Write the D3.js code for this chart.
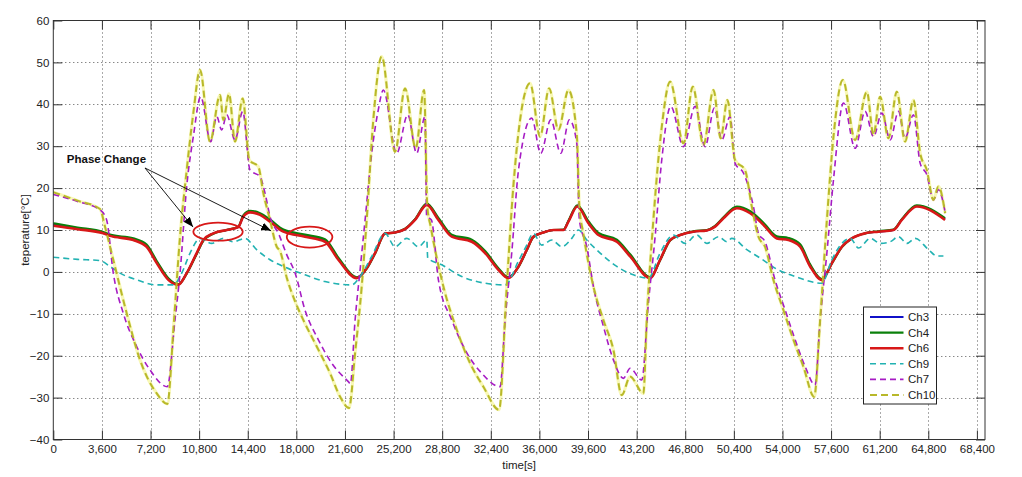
<!DOCTYPE html>
<html><head><meta charset="utf-8">
<script src="https://cdn.jsdelivr.net/npm/d3@7"></script>
<style>body{margin:0;background:#fff}svg{display:block}</style>
</head><body>
<svg id="c" width="1022" height="477"></svg>
<script>
// ---- data: [time (s), temperature (°C)] ----
const ch3 = [[0,11.3],[1800,10.4],[3700,9.3],[4200,8.7],[5925,7.8],[6910,6.2],[7660,2.3],[8520,-1.7],[9260,-3.0],[9880,-0.3],[10620,4.4],[11110,7.5],[11850,9.2],[12840,10.0],[13700,10.7],[14070,13.3],[14570,14.4],[15310,13.8],[16050,12.2],[17040,9.8],[18640,8.6],[20120,7.5],[21110,3.1],[22470,-1.4],[23210,0.9],[23830,4.5],[24570,9.2],[25310,9.4],[26050,10.2],[26790,12.5],[27660,16.1],[28520,12.6],[29510,8.6],[30990,7.4],[31980,4.7],[32960,0.7],[33700,-1.4],[34450,1.3],[35070,5.3],[35550,8.4],[36290,9.4],[37040,10.0],[37780,10.0],[38150,12.1],[38810,15.7],[39630,11.8],[40370,9.0],[41730,7.4],[42720,3.9],[44200,-1.4],[44940,2.9],[45680,7.6],[46420,8.8],[47400,9.6],[48400,9.9],[49010,10.9],[49630,12.9],[50620,15.4],[51610,14.2],[52350,12.2],[52710,11.0],[53580,8.3],[54440,7.9],[55310,6.3],[56050,1.5],[56920,-1.8],[57660,2.1],[58400,6.0],[59140,8.0],[60120,9.2],[61110,9.6],[62220,10.0],[62840,12.5],[63950,15.7],[66040,12.6]];
const ch4 = [[0,11.6],[1800,10.6],[3700,9.5],[4200,8.9],[5925,8.0],[6910,6.5],[7660,2.6],[8520,-1.5],[9260,-3.0],[9880,-0.4],[10620,4.3],[11110,7.4],[11850,9.1],[12840,10.0],[13700,10.8],[14070,13.5],[14570,14.6],[15310,14.0],[16050,12.5],[17040,10.1],[18640,8.9],[20120,7.8],[21110,3.4],[22470,-1.3],[23210,0.8],[23830,4.4],[24570,9.1],[25310,9.4],[26050,10.3],[26790,12.6],[27660,16.3],[28520,12.9],[29510,8.9],[30990,7.7],[31980,5.0],[32960,0.9],[33700,-1.3],[34450,1.2],[35070,5.2],[35550,8.3],[36290,9.4],[37040,10.0],[37780,10.1],[38150,12.2],[38810,15.9],[39630,12.1],[40370,9.3],[41730,7.7],[42720,4.2],[44200,-1.3],[44940,2.8],[45680,7.5],[46420,8.8],[47400,9.7],[48400,10.0],[49010,11.0],[49630,13.0],[50620,15.6],[51610,14.5],[52350,12.5],[52710,11.3],[53580,8.5],[54440,8.1],[55310,6.6],[56050,1.8],[56920,-1.7],[57660,2.0],[58400,5.9],[59140,8.0],[60120,9.2],[61110,9.7],[62220,10.1],[62840,12.6],[63950,15.9],[66040,12.8]];
const ch6 = [[0,11.0],[1800,10.2],[3700,9.2],[4200,8.6],[5925,7.6],[6910,6.0],[7660,2.1],[8520,-1.9],[9260,-3.1],[9880,-0.3],[10620,4.5],[11110,7.6],[11850,9.2],[12840,10.0],[13700,10.7],[14070,13.2],[14570,14.2],[15310,13.6],[16050,12.0],[17040,9.6],[18640,8.4],[20120,7.2],[21110,2.9],[22470,-1.5],[23210,0.9],[23830,4.5],[24570,9.2],[25310,9.4],[26050,10.2],[26790,12.4],[27660,16.0],[28520,12.4],[29510,8.4],[30990,7.2],[31980,4.5],[32960,0.5],[33700,-1.5],[34450,1.3],[35070,5.3],[35550,8.4],[36290,9.4],[37040,10.0],[37780,10.0],[38150,12.0],[38810,15.6],[39630,11.6],[40370,8.8],[41730,7.2],[42720,3.7],[44200,-1.5],[44940,2.9],[45680,7.6],[46420,8.8],[47400,9.6],[48400,9.9],[49010,10.8],[49630,12.8],[50620,15.2],[51610,14.0],[52350,12.0],[52710,10.8],[53580,8.0],[54440,7.6],[55310,6.0],[56050,1.3],[56920,-1.9],[57660,2.1],[58400,6.0],[59140,8.0],[60120,9.2],[61110,9.6],[62220,10.0],[62840,12.4],[63950,15.6],[66040,12.4]];
const ch9 = [[0,3.5],[1800,3.0],[3460,2.7],[4200,1.3],[4940,-0.3],[6180,-1.9],[7660,-3.1],[8890,-3.1],[9510,-0.3],[10130,4.5],[10870,8.0],[11730,6.8],[12590,8.0],[13330,7.2],[14200,8.0],[15060,5.3],[16050,2.9],[17040,1.3],[18640,-0.7],[20120,-2.3],[22100,-3.1],[22720,-1.1],[23580,3.7],[24570,9.2],[25310,6.0],[26180,8.0],[27040,6.0],[27660,7.6],[27730,3.3],[28770,1.7],[30250,-1.1],[31980,-2.7],[33460,-3.1],[34450,2.6],[35000,6.0],[35550,9.2],[36170,6.4],[36920,7.6],[37660,6.0],[38400,8.0],[38890,10.0],[39510,7.6],[40500,4.5],[41730,1.3],[42960,-0.7],[44070,-1.5],[44940,4.5],[45920,8.8],[46790,6.8],[47650,8.8],[48400,6.8],[49260,8.4],[49880,7.2],[50250,8.0],[51360,5.3],[52350,3.3],[53450,0.9],[54940,-1.1],[56920,-2.7],[57660,2.9],[58400,6.8],[59020,8.0],[59640,5.7],[60500,8.0],[61240,6.8],[61980,7.2],[62590,8.4],[63220,6.8],[63830,8.0],[64820,5.3],[65430,3.8],[65920,3.8]];
const ch7 = [[0,18.5],[1800,16.8],[3460,14.8],[3950,12.4],[4444,-0.3],[5185,-9.9],[6175,-17.8],[7160,-23.4],[8440,-27.4],[9010,-11.5],[9385,-0.3],[9880,20.4],[10370,32.3],[10915,41.8],[11655,31.1],[12100,37.1],[12470,33.9],[12840,37.5],[13460,31.5],[14030,38.3],[14570,24.3],[15310,22.7],[15680,18.8],[16050,13.2],[16700,9.0],[17300,4.0],[17900,-0.2],[18640,-9.1],[19630,-16.2],[20620,-21.8],[21850,-26.2],[22000,-26.7],[22350,-11.5],[22720,0.5],[23090,12.4],[23580,28.3],[24070,38.7],[24440,43.4],[25430,28.3],[26250,37.5],[26910,28.3],[27530,37.1],[27650,13.2],[28000,12.4],[28520,-1.9],[29510,-11.5],[30500,-18.6],[31730,-24.2],[33090,-27.4],[33460,-11.5],[33950,4.5],[34450,24.3],[35430,36.7],[36100,28.3],[36840,36.3],[37580,28.3],[38220,36.3],[38770,30.7],[38960,12.4],[39510,6.0],[40000,-3.5],[40740,-13.0],[41480,-21.0],[42220,-25.4],[42720,-23.0],[43580,-25.8],[44070,-7.5],[44570,8.4],[45060,26.7],[45730,39.5],[46670,29.9],[47530,39.5],[48270,29.9],[48960,39.1],[49510,31.5],[50120,37.1],[50490,25.9],[51110,23.6],[51850,15.6],[52220,9.2],[52710,7.2],[53450,-1.9],[54200,-9.1],[54940,-16.2],[55680,-22.6],[56420,-27.0],[56790,-11.5],[57290,4.5],[57780,22.0],[58520,40.3],[59380,29.5],[60120,38.3],[60740,32.3],[61360,37.9],[61980,31.5],[62590,38.3],[63080,31.9],[63700,37.5],[64200,25.9],[64690,23.2],[65180,17.2],[65550,19.6],[66040,14.4]];
const ch10 = [[0,19.0],[1800,17.0],[3460,15.0],[3830,10.8],[4440,2.9],[5430,-9.8],[6420,-21.0],[7660,-29.0],[8440,-31.5],[8940,-11.5],[9385,8.4],[9880,24.3],[10370,37.9],[10866,48.2],[11606,31.1],[12347,42.2],[12594,36.3],[13014,42.5],[13458,31.1],[14027,41.4],[14520,26.7],[15185,25.1],[15555,18.8],[16050,12.4],[16548,6.0],[16790,5.0],[17300,-1.5],[17900,-7.0],[18520,-11.5],[19510,-17.8],[20500,-24.2],[21240,-29.8],[21900,-32.5],[22350,-19.4],[22840,-3.5],[23210,12.4],[23700,36.3],[24320,51.4],[25310,28.7],[26050,43.8],[26840,29.5],[27460,43.4],[27700,15.6],[27950,10.8],[28890,-3.5],[29880,-13.8],[30870,-21.8],[31850,-27.4],[33010,-32.9],[33580,-3.5],[34070,20.4],[34570,36.3],[35310,45.0],[36050,32.3],[36720,43.8],[37410,33.9],[38150,43.4],[38770,32.7],[38960,15.6],[39250,9.2],[40000,-3.5],[40740,-11.5],[41480,-18.6],[42100,-29.4],[42720,-25.0],[43700,-29.0],[43950,-11.5],[44440,12.4],[45065,34.7],[45680,45.4],[46670,30.7],[47360,44.2],[48150,30.3],[48890,43.4],[49430,31.9],[49920,41.0],[50490,26.7],[51230,24.3],[51730,15.6],[52220,8.4],[52710,6.0],[53330,-1.9],[54070,-9.1],[54810,-16.2],[55550,-22.6],[56350,-29.8],[56790,-11.5],[57290,12.4],[57780,32.3],[58470,45.8],[59380,31.5],[60250,43.0],[60740,32.7],[61230,41.8],[61850,31.9],[62470,43.0],[63080,31.1],[63700,41.0],[64200,28.3],[64690,24.3],[65180,17.2],[65550,20.4],[66050,14.0]];

const seriesNames = ["Ch3","Ch4","Ch6","Ch9","Ch7","Ch10"];
const seriesData = [ch3, ch4, ch6, ch9, ch7, ch10];
const xTicks = d3.range(0, 68401, 3600);
const yTicks = d3.range(-40, 61, 10);
const xDomain = [0, 69000];
const yDomain = [-40, 60];
const xLabel = "time[s]";
const yLabel = "teperature[°C]";
const annText = "Phase Change";
// annotation anchors in data units
const annTextPos = [1000, 26.0];
const annArrowFrom = [6790, 24.8];
const annArrowTo = [[10350, 10.7], [16125, 9.8]];
const annEllipses = [{t:12200, v:9.6, rt:1830, rv:2.15}, {t:18980, v:8.3, rt:1690, rv:2.5}];

// ---- styles ----
const styles = {
  Ch3:  {color:"#1010c8", width:2,   dash:null},
  Ch4:  {color:"#0a800a", width:2.2, dash:null},
  Ch6:  {color:"#d81818", width:2.6, dash:null},
  Ch9:  {color:"#22b2b2", width:1.6, dash:"6,4"},
  Ch7:  {color:"#a61cc4", width:1.6, dash:"6,4"},
  Ch10: {color:"#b8b82a", width:2.0, dash:"7,4"}
};

const L = 53.3, R = 985, T = 20.5, B = 439.5;
const svg = d3.select("#c");
const x = d3.scaleLinear().domain(xDomain).range([L, R]);
const y = d3.scaleLinear().domain(yDomain).range([B, T]);
const font = "'Liberation Sans', Arial, sans-serif";

svg.append("rect").attr("x",L).attr("y",T).attr("width",R-L).attr("height",B-T).attr("fill","#fff");

// grid
const grid = svg.append("g").attr("stroke","#555").attr("stroke-width",1).attr("stroke-dasharray","1,3");
grid.selectAll(".gx").data(xTicks.filter(d=>d>0)).join("line")
  .attr("x1",d=>Math.round(x(d))+0.5).attr("x2",d=>Math.round(x(d))+0.5).attr("y1",T).attr("y2",B);
grid.selectAll(".gy").data(yTicks.filter(d=>d>-40 && d<60)).join("line")
  .attr("y1",d=>Math.round(y(d))+0.5).attr("y2",d=>Math.round(y(d))+0.5).attr("x1",L).attr("x2",R);

// series
const line = d3.line().x(d=>x(d[0])).y(d=>y(d[1])).curve(d3.curveMonotoneX);
const plot = svg.append("g");
// faint yellow fringe under Ch10
plot.append("path").attr("d", line(ch10)).attr("fill","none").attr("stroke","#f2f27a").attr("stroke-width",3.2).attr("stroke-opacity",0.55);
seriesNames.forEach((n,i)=>{
  const s = styles[n];
  plot.append("path").attr("d", line(seriesData[i])).attr("fill","none")
    .attr("stroke", s.color).attr("stroke-width", s.width)
    .attr("stroke-dasharray", s.dash).attr("stroke-linejoin","round");
});

// axes
const axCol = "#333";
const gx = svg.append("g").attr("transform",`translate(0,${B})`)
  .call(d3.axisBottom(x).tickValues(xTicks).tickFormat(d3.format(",")).tickSizeInner(-9).tickSizeOuter(0).tickPadding(5));
const gxt = svg.append("g").attr("transform",`translate(0,${T})`)
  .call(d3.axisTop(x).tickValues(xTicks).tickFormat("").tickSizeInner(-9).tickSizeOuter(0));
const gy = svg.append("g").attr("transform",`translate(${L},0)`)
  .call(d3.axisLeft(y).tickValues(yTicks).tickSizeInner(-9).tickSizeOuter(0).tickPadding(4));
const gyr = svg.append("g").attr("transform",`translate(${R},0)`)
  .call(d3.axisRight(y).tickValues(yTicks).tickFormat("").tickSizeInner(-9).tickSizeOuter(0));
[gx,gxt,gy,gyr].forEach(g=>{
  g.select(".domain").remove();
  g.selectAll("line").attr("stroke",axCol);
  g.selectAll("text").attr("font-family",font).attr("font-size",11.5).attr("fill","#222");
});
svg.append("rect").attr("x",L).attr("y",T).attr("width",R-L).attr("height",B-T)
  .attr("fill","none").attr("stroke",axCol).attr("stroke-width",1);

// axis labels
svg.append("text").attr("x",(L+R)/2).attr("y",469).attr("text-anchor","middle")
  .attr("font-family",font).attr("font-size",11.5).attr("fill","#222").text(xLabel);
svg.append("text").attr("transform",`translate(29,${(T+B)/2}) rotate(-90)`).attr("text-anchor","middle")
  .attr("font-family",font).attr("font-size",11.5).attr("fill","#222").text(yLabel);

// annotation
svg.append("defs").append("marker").attr("id","ah").attr("viewBox","0 0 10 8").attr("refX",10).attr("refY",4)
  .attr("markerWidth",10).attr("markerHeight",8).attr("markerUnits","userSpaceOnUse").attr("orient","auto")
  .append("path").attr("d","M0,0L10,4L0,8Z").attr("fill","#000");
annArrowTo.forEach(p=>{
  svg.append("line").attr("x1",x(annArrowFrom[0])).attr("y1",y(annArrowFrom[1]))
    .attr("x2",x(p[0])).attr("y2",y(p[1])).attr("stroke","#000").attr("stroke-width",0.9).attr("marker-end","url(#ah)");
});
svg.append("text").attr("x",x(annTextPos[0])).attr("y",y(annTextPos[1]))
  .attr("font-family",font).attr("font-size",11.5).attr("font-weight","bold").attr("fill","#111").text(annText);
annEllipses.forEach(e=>{
  svg.append("ellipse").attr("cx",x(e.t)).attr("cy",y(e.v))
    .attr("rx",x(e.rt)-x(0)).attr("ry",y(0)-y(e.rv))
    .attr("fill","none").attr("stroke","#d81818").attr("stroke-width",1.8);
});

// legend
const lg = svg.append("g");
const lx = 863.5, ly = 307, lw = 73, lh = 97;
lg.append("rect").attr("x",lx).attr("y",ly).attr("width",lw).attr("height",lh).attr("fill","#fff").attr("stroke","#222").attr("stroke-width",1);
seriesNames.forEach((n,i)=>{
  const s = styles[n]; const yy = ly + 10 + i*15.6;
  lg.append("line").attr("x1",lx+6.5).attr("x2",lx+40).attr("y1",yy).attr("y2",yy)
    .attr("stroke",s.color).attr("stroke-width",s.width).attr("stroke-dasharray",s.dash);
  lg.append("text").attr("x",lx+44.5).attr("y",yy+4).attr("font-family",font).attr("font-size",11.5).attr("fill","#222").text(n);
});
</script>
</body></html>
